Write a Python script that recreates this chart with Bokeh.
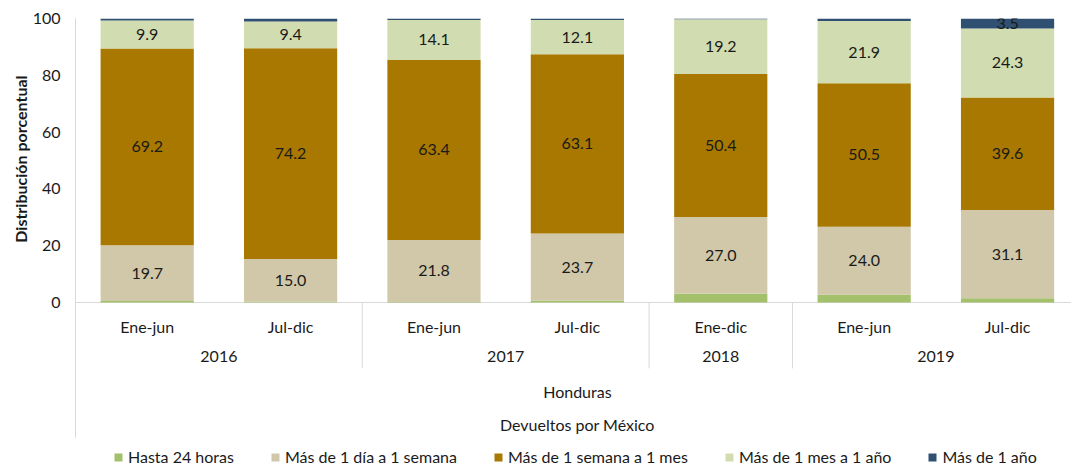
from bokeh.plotting import figure
from bokeh.models import (Range1d, FixedTicker, Legend, LegendItem, Title,
                          ColumnDataSource)
from bokeh.core.properties import value
from bokeh.embed import file_html
from bokeh.resources import INLINE

# ---------------- data ----------------
periods = ["Ene-jun", "Jul-dic", "Ene-jun", "Jul-dic", "Ene-dic", "Ene-jun", "Jul-dic"]
years = ["2016", "2017", "2018", "2019"]
year_spans = [2, 2, 1, 2]
series_names = ["Hasta 24 horas", "Más de 1 día a 1 semana",
                "Más de 1 semana a 1 mes", "Más de 1 mes a 1 año", "Más de 1 año"]
hasta_24h = [0.5, 0.3, 0.2, 0.6, 3.1, 2.7, 1.5]
dia_semana = [19.7, 15.0, 21.8, 23.7, 27.0, 24.0, 31.1]
semana_mes = [69.2, 74.2, 63.4, 63.1, 50.4, 50.5, 39.6]
mes_ano = [9.9, 9.4, 14.1, 12.1, 19.2, 21.9, 24.3]
mas_ano = [0.7, 1.1, 0.5, 0.5, 0.3, 0.9, 3.5]
country = "Honduras"
group = "Devueltos por México"
y_title = "Distribución porcentual"
y_ticks = [0, 20, 40, 60, 80, 100]

colors = ["#A3C16A", "#D0C8A9", "#A87800", "#D1DDB0", "#2F5070"]
FONT = "Lato"
FS = "16px"
TXT = "#1a1a1a"
GRID = "#d9d9d9"

series = [hasta_24h, dia_semana, semana_mes, mes_ano, mas_ano]
keys = ["s0", "s1", "s2", "s3", "s4"]
xs = [i + 0.5 for i in range(len(periods))]
src = ColumnDataSource(dict(x=xs, **{k: v for k, v in zip(keys, series)}))

# layout constants (data units below zero)
Y_CAT, Y_YEAR, Y_COUNTRY, Y_GROUP = -8.45, -19.0, -31.3, -42.9
Y_SEP = -23.2
Y_AXIS_BOTTOM = -47.5
X_END = 6.946

p = figure(width=1071, height=466, output_backend="svg", toolbar_location=None,
           x_range=Range1d(0, X_END), y_range=Range1d(-57.75, 100),
           min_border_left=75, min_border_right=0, min_border_top=18,
           min_border_bottom=0, outline_line_color=None)
p.xaxis.visible = False
p.xgrid.visible = False
p.ygrid.visible = False

yax = p.yaxis[0]
yax.ticker = FixedTicker(ticks=y_ticks)
yax.bounds = (Y_AXIS_BOTTOM, 100)
yax.axis_line_color = GRID
yax.major_tick_line_color = None
yax.minor_tick_line_color = None
yax.major_tick_out = 0
yax.major_tick_in = 0
yax.major_label_standoff = 15
yax.major_label_text_font = FONT
yax.major_label_text_font_size = FS
yax.major_label_text_color = TXT

# y axis title as a left-side Title
p.add_layout(Title(text=y_title, align="right", offset=57, text_font=FONT,
                   text_font_size="16px", text_font_style="bold",
                   text_color=TXT, standoff=0), "left")

# x axis line and group separators
p.segment(x0=[0], y0=[0], x1=[X_END], y1=[0], line_color=GRID, line_width=1)
bounds = []
acc = 0
for s in year_spans[:-1]:
    acc += s
    bounds.append(acc)
p.segment(x0=bounds, y0=[0] * len(bounds), x1=bounds, y1=[Y_SEP] * len(bounds),
          line_color=GRID, line_width=1)

# stacked bars
renderers = p.vbar_stack(keys, x="x", width=0.65, source=src, color=colors,
                         line_color=None)

# data labels
lx, ly, lt = [], [], []
for i in range(len(periods)):
    base = 0.0
    for v in [s[i] for s in series]:
        if v >= 3.5:
            lx.append(xs[i]); ly.append(base + v / 2); lt.append(f"{v:.1f}")
        base += v
p.text(x=lx, y=ly, text=lt, text_align="center", text_baseline="middle",
       text_font=value(FONT), text_font_size=FS, text_color=TXT)

# category labels
p.text(x=xs, y=[Y_CAT] * len(xs), text=periods, text_align="center",
       text_baseline="middle", text_font=value(FONT), text_font_size=FS,
       text_color=TXT)
ycent = []
acc = 0
for s in year_spans:
    ycent.append(acc + s / 2)
    acc += s
p.text(x=ycent, y=[Y_YEAR] * len(ycent), text=years, text_align="center",
       text_baseline="middle", text_font=value(FONT), text_font_size=FS,
       text_color=TXT)
mid = len(periods) / 2
p.text(x=[mid], y=[Y_COUNTRY], text=[country], text_align="center",
       text_baseline="middle", text_font=value(FONT), text_font_size=FS,
       text_color=TXT)
p.text(x=[mid], y=[Y_GROUP], text=[group], text_align="center",
       text_baseline="middle", text_font=value(FONT), text_font_size=FS,
       text_color=TXT)

# legend
legend = Legend(items=[LegendItem(label=n, renderers=[r])
                       for n, r in zip(series_names, renderers)],
                location=(38, 0), orientation="horizontal",
                glyph_width=10, glyph_height=10, label_height=16,
                label_standoff=5, spacing=36, padding=0, margin=0,
                label_text_font=FONT, label_text_font_size=FS,
                label_text_color=TXT, background_fill_alpha=0,
                border_line_color=None)
p.add_layout(legend)

open("out.html", "w").write(file_html(p, INLINE))
